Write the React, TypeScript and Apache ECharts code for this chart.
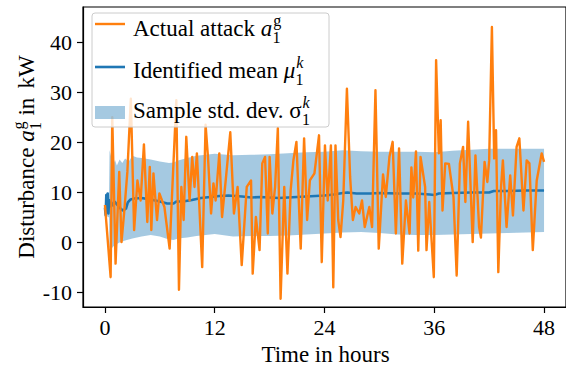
import React, { useEffect, useRef } from "react";
import * as echarts from "echarts";

// ---- data ----
const attackHours = [0, 0.62, 0.8, 1.16, 1.56, 1.81, 2.09, 2.45, 2.83, 3.19, 3.55, 3.9, 4.26, 4.63, 4.9, 5.07, 5.3, 5.69, 5.95, 6.5, 7.07, 7.8, 8.09, 8.35, 8.6, 8.89, 9.25, 9.54, 9.79, 10.05, 10.63, 11.0, 11.26, 11.6, 11.86, 12.1, 12.5, 12.8, 13.2, 13.7, 14.1, 14.5, 14.95, 15.5, 15.97, 16.15, 16.5, 16.9, 17.2, 17.5, 17.8, 18.0, 18.3, 18.6, 18.9, 19.2, 19.6, 19.95, 20.3, 20.6, 20.93, 21.4, 21.77, 22.1, 22.4, 22.9, 23.4, 23.7, 24.05, 24.35, 24.7, 24.96, 25.2, 25.5, 25.75, 26.05, 26.45, 26.8, 27.1, 27.4, 27.8, 28.1, 28.4, 28.9, 29.2, 29.57, 29.93, 30.4, 30.7, 31.1, 31.45, 31.8, 32.15, 32.5, 32.9, 33.3, 33.5, 33.7, 34.0, 34.25, 34.5, 35.0, 35.15, 35.45, 35.95, 36.2, 36.5, 36.7, 36.9, 37.2, 37.6, 38.1, 38.45, 38.8, 39.15, 39.4, 39.7, 40.2, 40.5, 40.9, 41.1, 41.5, 41.8, 42.0, 42.3, 42.55, 42.75, 43.0, 43.3, 43.5, 43.9, 44.3, 44.6, 45.0, 45.3, 45.75, 46.1, 46.4, 46.77, 47.2, 47.74, 48.0];
const attackKW = [7.5, -6.9, 25, -4.2, 14.1, 0.1, 5.8, 14.1, 28.7, 2.5, 12.4, 8.4, 19.6, 4.1, 15.1, 2.5, 13.8, 4.5, 9.8, 7.1, -1.2, 28.4, -9.4, 11.1, 4.5, 21.1, 8.4, 17.1, 11.1, 17.8, -4.9, 23.5, 17.1, 5.8, 11.8, 8.4, 17.8, 5.1, 12.4, 22.0, 5.8, 11.1, -4.5, 11.1, 12.4, -6.2, 5.1, -1.5, 15.8, 17.1, 1.8, 17.1, 5.8, 11.1, 22.8, -11.2, 11.1, -6.2, 10.4, 16.4, 20.1, -1.2, 20.8, 4.5, 12.4, 13.8, 21.4, -3.9, 19.4, 8.4, 19.4, -8.9, 19.4, 4.5, 1.1, 8.4, 30.7, 13.1, 4.5, 7.1, 5.8, 8.4, 3.1, 7.1, 3.1, 30.4, -1.2, 13.6, 9.1, 17.1, 20.1, 1.8, 18.8, -4.2, 8.4, 1.8, 15.0, 9.0, 18.2, -1.6, 17.1, 11.1, -1.5, 8.1, -6.9, 36.4, 17.8, 24.4, 6.4, 15.8, 15.7, 9.1, -6.6, 15.8, 19.1, 8.1, 24.1, 0.1, 17.4, 3.1, 1.0, 16.1, 12.1, 16.4, 43.0, 16.8, 22.4, -5.9, 11.1, 16.4, 3.1, 13.4, 5.4, 19.1, 20.8, 6.4, 16.4, 15.8, -1.5, 12.4, 17.8, 16.1];

const meanHours = [0, 0.08, 0.15, 0.22, 0.3, 0.38, 0.45, 0.55, 0.7, 0.9, 1.1, 1.3, 1.5, 1.8, 2.0, 2.3, 2.5, 2.8, 3.2, 4, 5, 6, 6.8, 7.5, 7.8, 8.5, 9.5, 10.5, 11.5, 12.5, 13.5, 15, 16, 17, 18, 19, 20, 21, 22, 23, 24, 25, 26, 26.5, 27.5, 29, 30, 32, 34, 35.5, 36, 36.5, 38, 40, 42, 42.5, 44, 46, 48];
const meanKW = [7, 5.5, 9.5, 6, 9.8, 5.8, 8.5, 7.2, 8.0, 7.4, 8.1, 7.6, 7.2, 6.6, 6.4, 6.8, 8.0, 8.6, 8.8, 8.9, 8.6, 8.2, 7.8, 7.8, 8.2, 8.2, 8.5, 8.9, 9.1, 9.3, 9.4, 9.2, 9.0, 9.1, 9.0, 8.9, 9.0, 9.1, 9.2, 9.3, 9.4, 9.6, 9.9, 10.0, 9.8, 9.8, 9.9, 9.8, 9.8, 9.6, 9.5, 9.8, 9.9, 10.0, 10.0, 10.3, 10.3, 10.4, 10.4];

const bandHours = [0, 0.45, 0.5, 0.7, 0.9, 1.1, 1.3, 1.6, 1.9, 2.2, 2.6, 3.0, 3.5, 4, 5, 6, 7, 7.5, 8, 9, 10, 12, 14, 16, 18, 20, 22, 24, 26, 28, 30, 32, 34, 36, 38, 40, 42, 44, 46, 48];
const bandLow = [5.5, 5.0, -1.0, -1.3, -0.8, -0.6, -0.3, 0.0, 0.2, 0.4, 0.6, 0.8, 1.0, 1.2, 1.5, 1.2, 0.6, 0.5, 0.8, 1.0, 1.3, 1.7, 1.2, 1.3, 1.3, 1.4, 1.6, 1.8, 2.0, 2.1, 1.9, 1.6, 1.5, 1.5, 1.6, 1.7, 1.8, 1.9, 2.0, 2.1];
const bandHigh = [9.5, 10.0, 18.4, 17.0, 15.6, 16.5, 15.4, 16.6, 15.9, 16.8, 16.2, 17.3, 17.0, 16.9, 16.6, 16.2, 15.9, 16.0, 16.4, 16.9, 17.3, 17.7, 17.4, 17.5, 17.6, 17.8, 18.0, 18.1, 18.4, 18.2, 18.1, 18.1, 18.1, 18.0, 18.3, 18.5, 18.7, 18.7, 18.7, 18.7];

const xTicks = [0, 12, 24, 36, 48];
const yTicks = [-10, 0, 10, 20, 30, 40];

const ORANGE = "#ff7f0e";
const BLUE = "#1f77b4";
const BAND = "rgba(31,119,180,0.4)";
const FONT = '"Liberation Serif", "Times New Roman", serif';

let measureCtx: CanvasRenderingContext2D | null = null;
function tw(s: string, size: number, italic: boolean): number {
  if (!measureCtx) measureCtx = document.createElement("canvas").getContext("2d");
  if (!measureCtx) return s.length * size * 0.5;
  measureCtx.font = `${italic ? "italic " : ""}${size}px ${FONT}`;
  return measureCtx.measureText(s).width;
}

function txt(x: number, base: number, s: string, size: number, italic: boolean): any {
  return {
    type: "text",
    x,
    y: base - 0.3375 * size,
    z: 100,
    silent: true,
    style: {
      text: s,
      fill: "#000",
      fontFamily: FONT,
      fontSize: size,
      fontStyle: italic ? "italic" : "normal",
      align: "left",
      verticalAlign: "middle",
    },
  };
}

function mathRow(
  x0: number,
  base: number,
  fs: number,
  prefix: string,
  sym: string,
  symItalic: boolean,
  sup: string,
  supItalic: boolean,
  sub: string,
  suffix: string[]
): { els: any[]; width: number } {
  const els: any[] = [];
  let x = x0;
  els.push(txt(x, base, prefix, fs, false));
  x += tw(prefix, fs, false);
  els.push(txt(x, base, sym, fs, symItalic));
  x += tw(sym, fs, symItalic) + 0.04 * fs;
  const ss = fs * 0.7;
  els.push(txt(x, base - 0.42 * fs, sup, ss, supItalic));
  els.push(txt(x - 0.03 * fs, base + 0.31 * fs, sub, ss, false));
  x += Math.max(tw(sup, ss, supItalic), tw(sub, ss, false));
  for (let i = 0; i < suffix.length; i++) {
    x += tw(" ", fs, false) * (i === 0 ? 1 : 1.6);
    els.push(txt(x, base, suffix[i], fs, false));
    x += tw(suffix[i], fs, false);
  }
  return { els, width: x - x0 };
}

export default function App() {
  const ref = useRef<HTMLDivElement>(null);

  useEffect(() => {
    document.body.style.margin = "0";
    if (!ref.current) return;
    const chart = echarts.init(ref.current, undefined, { renderer: "svg" });

    const ylb = mathRow(0, 0, 23, "Disturbance ", "a", true, "g", false, "1", ["in", "kW"]);
    const ylShift = -ylb.width / 2;
    const ylEls = ylb.els.map((e) => ({ ...e, x: e.x + ylShift }));

    const legendX = 133;
    const r1 = mathRow(legendX, 36, 23, "Actual attack ", "a", true, "g", false, "1", []);
    const r2 = mathRow(legendX, 78, 23, "Identified mean ", "μ", true, "k", true, "1", []);
    const r3 = mathRow(legendX, 118, 23, "Sample std. dev. ", "σ", false, "k", true, "1", []);

    const option: any = {
      animation: false,
      backgroundColor: "#fff",
      grid: {
        left: 83,
        top: 7,
        width: 485,
        height: 300,
        show: true,
        borderColor: "#000",
        borderWidth: 1.2,
        backgroundColor: "transparent",
      },
      xAxis: {
        type: "value",
        min: -2.4,
        max: 50.4,
        axisLine: { show: true, onZero: false, lineStyle: { color: "#000", width: 1.2 } },
        axisTick: { show: true, length: 6, lineStyle: { color: "#000", width: 1.2 }, customValues: xTicks },
        axisLabel: { customValues: xTicks, fontSize: 22, fontFamily: FONT, color: "#000", margin: 9 },
        splitLine: { show: false },
      },
      yAxis: {
        type: "value",
        min: -12.85,
        max: 47.0,
        axisLine: { show: true, onZero: false, lineStyle: { color: "#000", width: 1.2 } },
        axisTick: { show: true, length: 6, lineStyle: { color: "#000", width: 1.2 }, customValues: yTicks },
        axisLabel: { customValues: yTicks, fontSize: 22, fontFamily: FONT, color: "#000", margin: 11 },
        splitLine: { show: false },
      },
      series: [
        {
          type: "custom",
          name: "Sample std. dev.",
          data: bandHours.map((t, i) => [t, bandLow[i], bandHigh[i]]),
          encode: { x: 0, y: [1, 2] },
          silent: true,
          z: 1,
          renderItem: (params: any, api: any) => {
            if (params.dataIndexInside !== 0) return null;
            const pts: number[][] = [];
            for (let i = 0; i < bandHours.length; i++) pts.push(api.coord([bandHours[i], bandHigh[i]]));
            for (let i = bandHours.length - 1; i >= 0; i--) pts.push(api.coord([bandHours[i], bandLow[i]]));
            return { type: "polygon", shape: { points: pts }, style: { fill: BAND } };
          },
        },
        {
          type: "line",
          name: "Identified mean",
          data: meanHours.map((t, i) => [t, meanKW[i]]),
          symbol: "none",
          lineStyle: { color: BLUE, width: 2.6, join: "round" },
          z: 2,
        },
        {
          type: "line",
          name: "Actual attack",
          data: attackHours.map((t, i) => [t, attackKW[i]]),
          symbol: "none",
          lineStyle: { color: ORANGE, width: 2.4, join: "round" },
          z: 3,
        },
      ],
      graphic: [
        {
          type: "group",
          x: 34,
          y: 157,
          rotation: Math.PI / 2,
          children: ylEls,
        },
        {
          type: "text",
          x: 325.5,
          y: 362 - 0.3375 * 23,
          z: 100,
          style: {
            text: "Time in hours",
            fill: "#000",
            fontFamily: FONT,
            fontSize: 23,
            align: "center",
            verticalAlign: "middle",
          },
        },
        {
          type: "rect",
          z: 90,
          shape: { x: 92, y: 13, width: 237, height: 114, r: 3 },
          style: { fill: "rgba(255,255,255,0.8)", stroke: "#cccccc", lineWidth: 1 },
        },
        {
          type: "line",
          z: 95,
          shape: { x1: 95, y1: 24, x2: 125, y2: 24 },
          style: { stroke: ORANGE, lineWidth: 2.4 },
        },
        {
          type: "line",
          z: 95,
          shape: { x1: 95, y1: 67, x2: 125, y2: 67 },
          style: { stroke: BLUE, lineWidth: 2.6 },
        },
        {
          type: "rect",
          z: 95,
          shape: { x: 95, y: 106, width: 30, height: 13 },
          style: { fill: BAND },
        },
        ...r1.els,
        ...r2.els,
        ...r3.els,
      ],
    };

    chart.setOption(option);
    return () => chart.dispose();
  }, []);

  return (
    <div
      ref={ref}
      style={{ position: "fixed", left: 0, top: 0, width: 566, height: 370, background: "#fff" }}
    />
  );
}
